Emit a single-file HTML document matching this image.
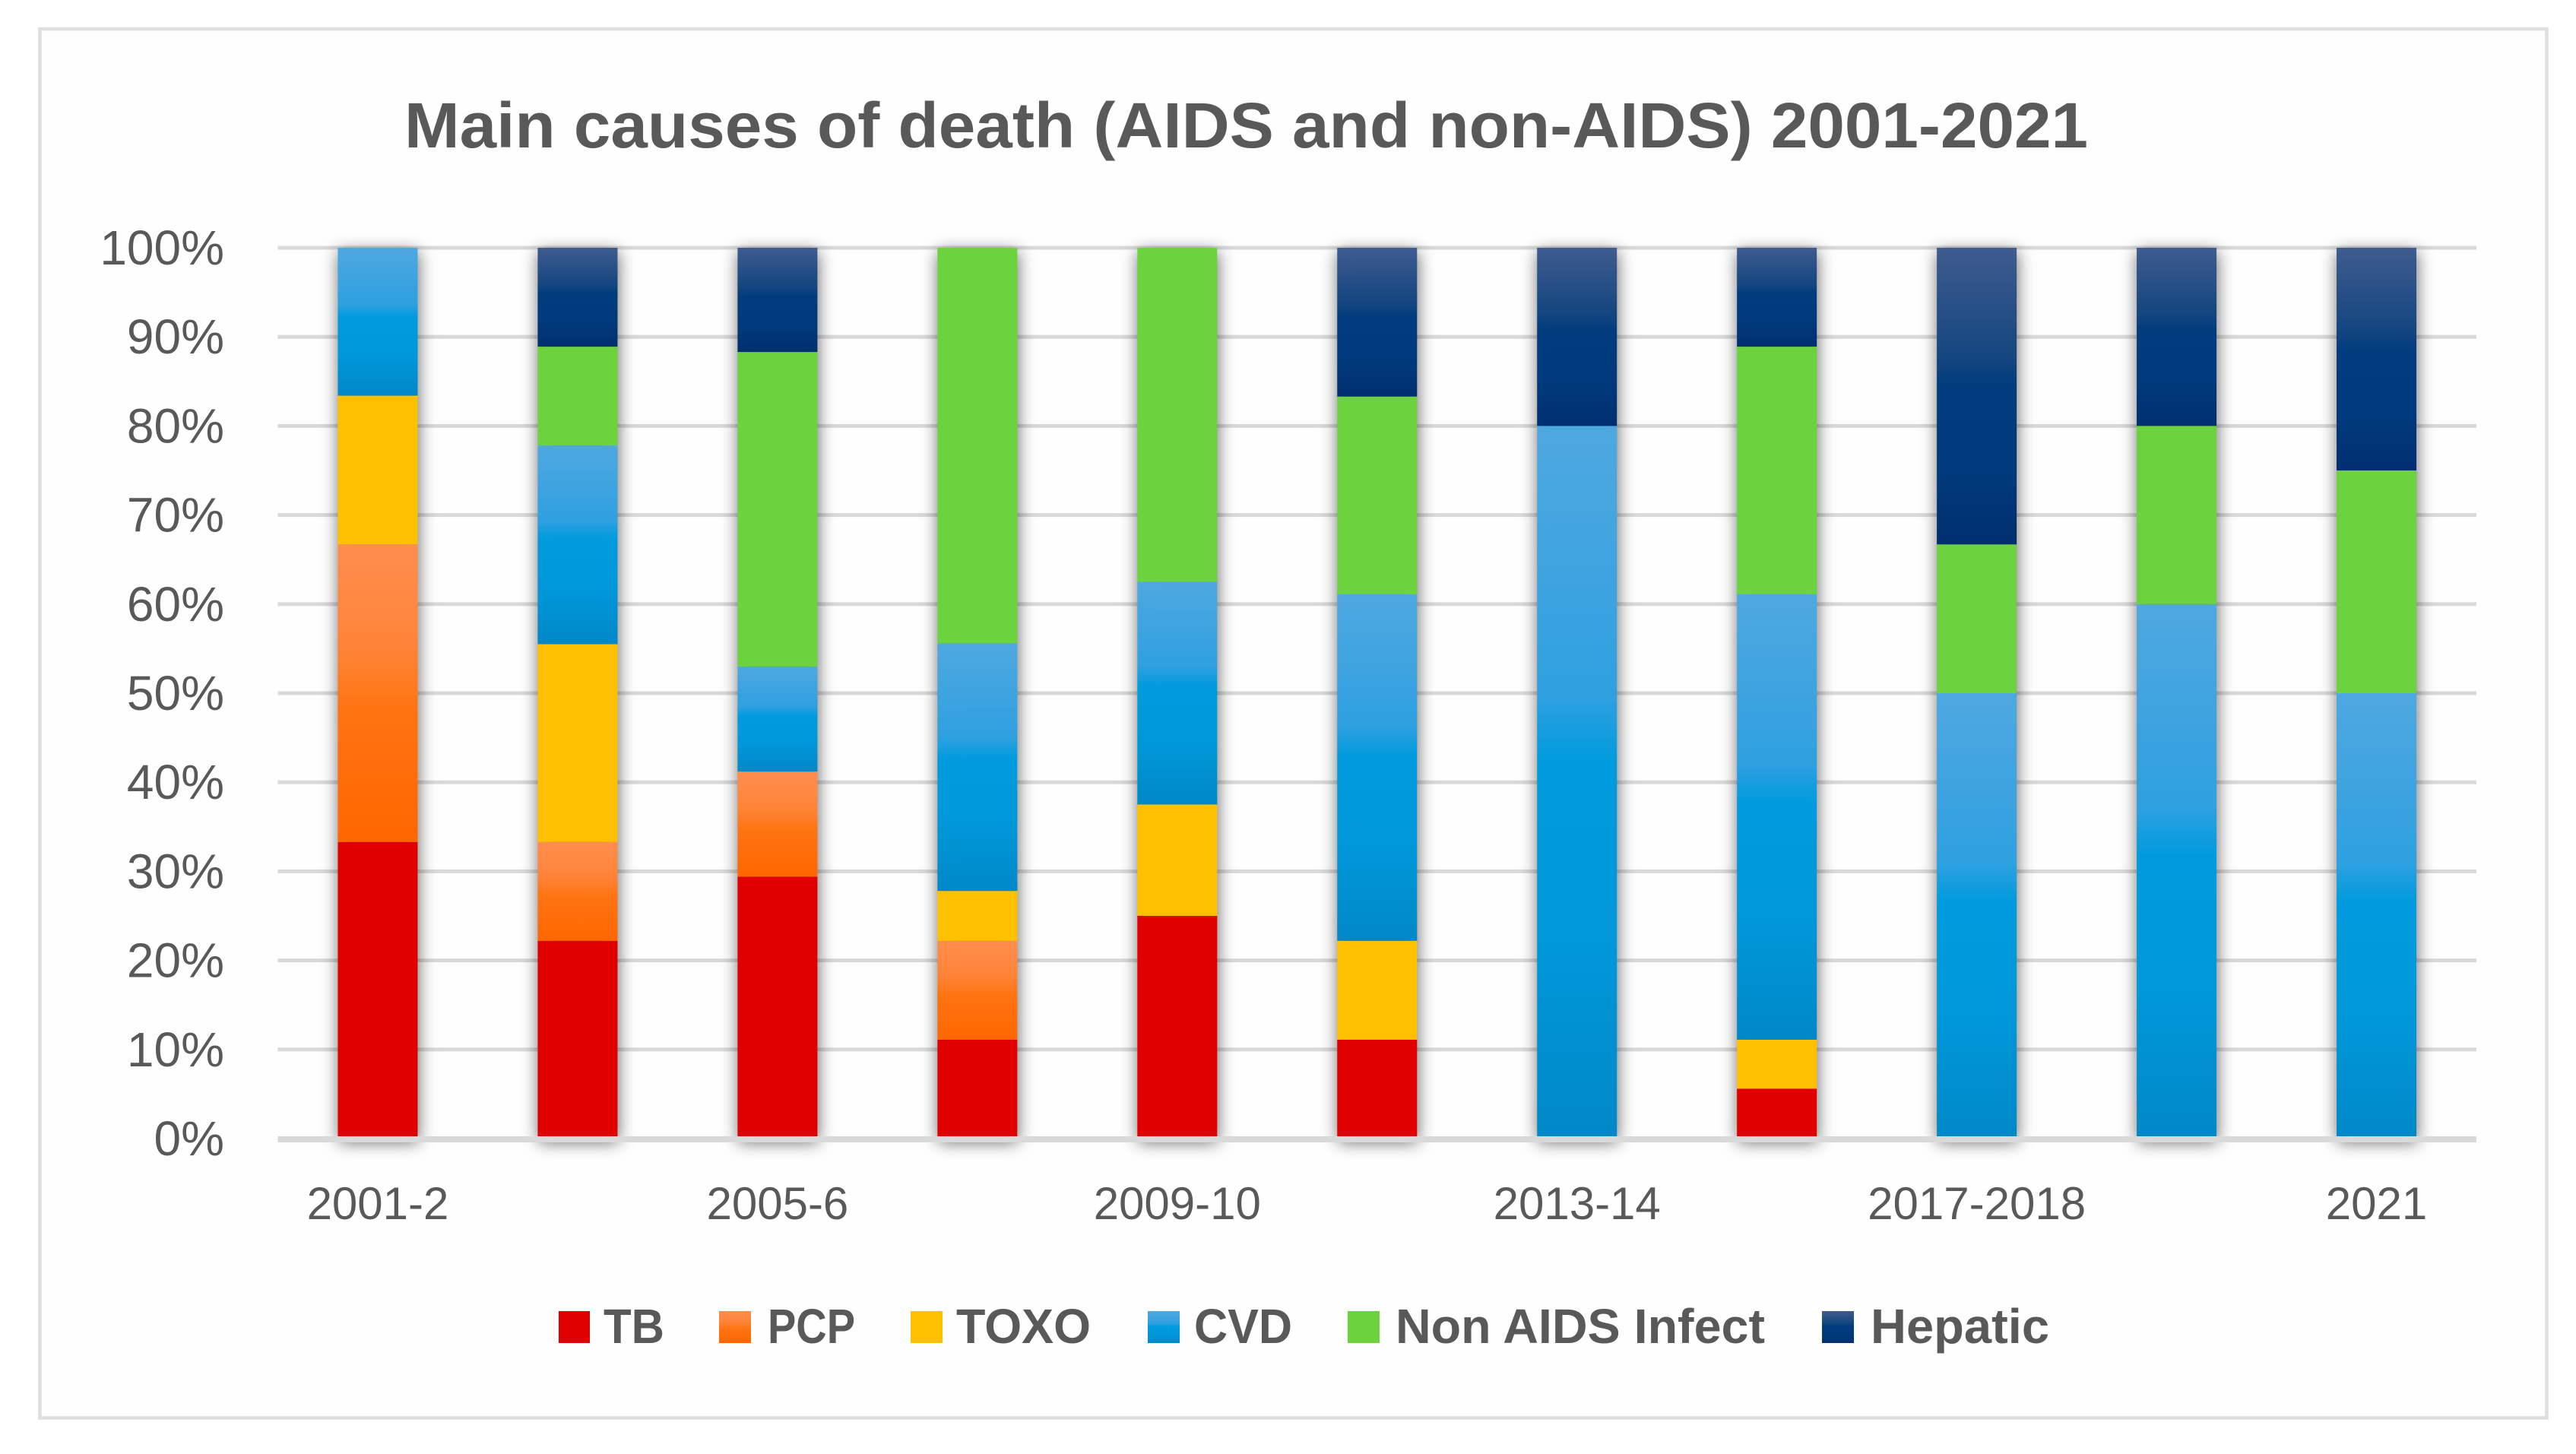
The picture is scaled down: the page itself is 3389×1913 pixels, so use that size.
<!DOCTYPE html>
<html lang="en">
<head>
<meta charset="utf-8">
<title>Main causes of death (AIDS and non-AIDS) 2001-2021</title>
<style>
html,body{margin:0;padding:0;background:#fff;width:3389px;height:1913px;overflow:hidden}
svg{display:block}
text{font-family:"Liberation Sans",sans-serif;fill:#595959}
</style>
</head>
<body>
<svg id="chart" xmlns="http://www.w3.org/2000/svg" width="3389" height="1913" viewBox="0 0 3389 1913">
  <defs>
    <linearGradient id="grad-pcp" x1="0" y1="0" x2="0" y2="1">
      <stop offset="0" stop-color="#ff8d4e"/><stop offset="0.35" stop-color="#ff8438"/><stop offset="0.55" stop-color="#ff7412"/><stop offset="1" stop-color="#ff6600"/>
    </linearGradient>
    <linearGradient id="grad-cvd" x1="0" y1="0" x2="0" y2="1">
      <stop offset="0" stop-color="#4fa8e0"/><stop offset="0.38" stop-color="#2fa0e0"/><stop offset="0.47" stop-color="#009bde"/><stop offset="0.72" stop-color="#0098da"/><stop offset="1" stop-color="#0088c8"/>
    </linearGradient>
    <linearGradient id="grad-hepatic" x1="0" y1="0" x2="0" y2="1">
      <stop offset="0" stop-color="#3f5c8f"/><stop offset="0.38" stop-color="#13457f"/><stop offset="0.47" stop-color="#003c7e"/><stop offset="0.75" stop-color="#003a7c"/><stop offset="1" stop-color="#002f70"/>
    </linearGradient>
    <filter id="bar-shadow" x="-60%" y="-5%" width="220%" height="110%" color-interpolation-filters="sRGB">
      <feDropShadow dx="1" dy="5" stdDeviation="11" flood-color="#000" flood-opacity="0.58"/>
    </filter>
  </defs>

  <rect x="52.5" y="38" width="3298" height="1827.5" fill="#fefefe" stroke="#dedede" stroke-width="4.5"/>

  <text x="532" y="194" font-size="84" font-weight="700" textLength="2215" lengthAdjust="spacingAndGlyphs">Main causes of death (AIDS and non-AIDS) 2001-2021</text>

  <g id="grid"></g>
  <g id="y-labels"></g>
  <g id="bars"></g>
  <rect x="365.5" y="1495" width="2892.5" height="8" fill="#d9d9d9"/>
  <g id="x-labels"></g>

  <g>
    <g>
      <rect x="735" y="1725" width="41" height="42" fill="#e00000"/>
      <text x="794" y="1767" font-size="64" font-weight="700" textLength="80" lengthAdjust="spacingAndGlyphs">TB</text>
    </g>
    <g>
      <rect x="946" y="1725" width="42" height="42" fill="url(#grad-pcp)"/>
      <text x="1010" y="1767" font-size="64" font-weight="700" textLength="115" lengthAdjust="spacingAndGlyphs">PCP</text>
    </g>
    <g>
      <rect x="1198" y="1725" width="42" height="42" fill="#ffc000"/>
      <text x="1258" y="1767" font-size="64" font-weight="700" textLength="177" lengthAdjust="spacingAndGlyphs">TOXO</text>
    </g>
    <g>
      <rect x="1510" y="1725" width="42" height="42" fill="url(#grad-cvd)"/>
      <text x="1571" y="1767" font-size="64" font-weight="700" textLength="129" lengthAdjust="spacingAndGlyphs">CVD</text>
    </g>
    <g>
      <rect x="1773" y="1725" width="42" height="42" fill="#6cd33f"/>
      <text x="1836" y="1767" font-size="64" font-weight="700" textLength="486" lengthAdjust="spacingAndGlyphs">Non AIDS Infect</text>
    </g>
    <g>
      <rect x="2397" y="1725" width="42" height="42" fill="url(#grad-hepatic)"/>
      <text x="2461" y="1767" font-size="64" font-weight="700" textLength="235" lengthAdjust="spacingAndGlyphs">Hepatic</text>
    </g>
  </g>
</svg>

<script>
// Chart data (percent of deaths per period)
var categories = ["2001-2","2003-4","2005-6","2007-8","2009-10","2011-12","2013-14","2015-16","2017-2018","2019-20","2021"];
var tb      = [33.3, 22.2, 29.4, 11.1, 25.0, 11.1,  0.0,  5.6,  0.0,  0.0,  0.0];
var pcp     = [33.4, 11.1, 11.8, 11.1,  0.0,  0.0,  0.0,  0.0,  0.0,  0.0,  0.0];
var toxo    = [16.7, 22.2,  0.0,  5.6, 12.5, 11.1,  0.0,  5.5,  0.0,  0.0,  0.0];
var cvd     = [16.6, 22.3, 11.8, 27.8, 25.0, 38.9, 80.0, 50.0, 50.0, 60.0, 50.0];
var nonAids = [ 0.0, 11.1, 35.3, 44.4, 37.5, 22.2,  0.0, 27.8, 16.7, 20.0, 25.0];
var hepatic = [ 0.0, 11.1, 11.7,  0.0,  0.0, 16.7, 20.0, 11.1, 33.3, 20.0, 25.0];
var yTicks  = [0, 10, 20, 30, 40, 50, 60, 70, 80, 90, 100];

var SVG_NS = "http://www.w3.org/2000/svg";
var plotLeft = 365.5, plotRight = 3258, plotTop = 326, plotBottom = 1498, barWidth = 105;

function yScale(v) { return plotBottom - (v / 100) * (plotBottom - plotTop); }
function xBand(i) { return plotLeft + (i + 0.5) * (plotRight - plotLeft) / categories.length; }
function make(tag) { return document.createElementNS(SVG_NS, tag); }

var seriesList = [
  { key: "tb", values: tb, fill: "#e00000" },
  { key: "pcp", values: pcp, fill: "url(#grad-pcp)" },
  { key: "toxo", values: toxo, fill: "#ffc000" },
  { key: "cvd", values: cvd, fill: "url(#grad-cvd)" },
  { key: "non-aids-infect", values: nonAids, fill: "#6cd33f" },
  { key: "hepatic", values: hepatic, fill: "url(#grad-hepatic)" }
];

var gridLayer = document.getElementById("grid");
var yLabelLayer = document.getElementById("y-labels");
yTicks.forEach(function (t) {
  var y = yScale(t);
  if (t > 0) {
    var line = make("rect");
    
    
    line.setAttribute("x", plotLeft);
    line.setAttribute("y", y - 2.5);
    line.setAttribute("width", plotRight - plotLeft);
    line.setAttribute("height", 5);
    line.setAttribute("fill", "#d9d9d9");
    gridLayer.appendChild(line);
  }
  var label = make("text");
  
  
  label.setAttribute("x", 295);
  label.setAttribute("y", y + 22);
  label.setAttribute("font-size", 64);
  label.setAttribute("text-anchor", "end");
  label.textContent = t + "%";
  yLabelLayer.appendChild(label);
});

var barLayer = document.getElementById("bars");
categories.forEach(function (cat, i) {
  var col = make("g");
  
  
  col.setAttribute("filter", "url(#bar-shadow)");
  var sum = 0;
  seriesList.forEach(function (s) {
    var v = s.values[i];
    if (v > 0) {
      var rect = make("rect");
      
      
      rect.setAttribute("x", xBand(i) - barWidth / 2);
      rect.setAttribute("y", yScale(sum + v));
      rect.setAttribute("width", barWidth);
      rect.setAttribute("height", yScale(sum) - yScale(sum + v));
      rect.setAttribute("fill", s.fill);
      col.appendChild(rect);
    }
    sum += v;
  });
  barLayer.appendChild(col);
});

var xLabelLayer = document.getElementById("x-labels");
categories.forEach(function (cat, i) {
  if (i % 2 !== 0) { return; }
  var label = make("text");
  
  
  label.setAttribute("x", xBand(i));
  label.setAttribute("y", 1604);
  label.setAttribute("font-size", 60);
  label.setAttribute("text-anchor", "middle");
  label.textContent = cat;
  xLabelLayer.appendChild(label);
});
</script>
</body>
</html>
